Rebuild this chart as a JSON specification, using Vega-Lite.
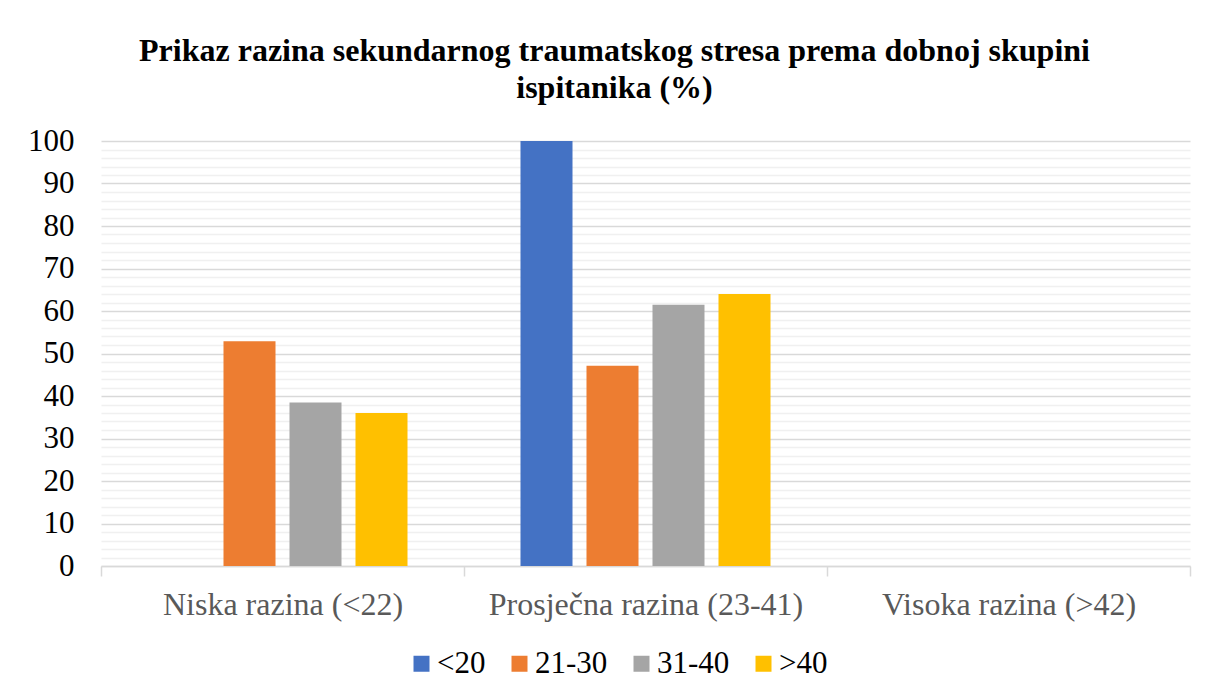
{
  "$schema": "https://vega.github.io/schema/vega-lite/v6.json",
  "width": 1089,
  "height": 425,
  "autosize": {"type": "none"},
  "padding": {"left": 101, "top": 141, "right": 18, "bottom": 129},
  "background": "white",
  "title": {
    "text": ["Prikaz razina sekundarnog traumatskog stresa prema dobnoj skupini", "ispitanika (%)"],
    "font": "Liberation Serif",
    "fontSize": 32,
    "fontWeight": "bold",
    "color": "#000000",
    "anchor": "middle",
    "dx": -31,
    "offset": 20,
    "lineHeight": 37
  },
  "data": {
    "values": [
      {"razina": "Niska razina (<22)", "dob": "<20", "postotak": 0},
      {"razina": "Niska razina (<22)", "dob": "21-30", "postotak": 52.9},
      {"razina": "Niska razina (<22)", "dob": "31-40", "postotak": 38.5},
      {"razina": "Niska razina (<22)", "dob": ">40", "postotak": 36},
      {"razina": "Prosječna razina (23-41)", "dob": "<20", "postotak": 100},
      {"razina": "Prosječna razina (23-41)", "dob": "21-30", "postotak": 47.1},
      {"razina": "Prosječna razina (23-41)", "dob": "31-40", "postotak": 61.5},
      {"razina": "Prosječna razina (23-41)", "dob": ">40", "postotak": 64},
      {"razina": "Visoka razina (>42)", "dob": "<20", "postotak": 0},
      {"razina": "Visoka razina (>42)", "dob": "21-30", "postotak": 0},
      {"razina": "Visoka razina (>42)", "dob": "31-40", "postotak": 0},
      {"razina": "Visoka razina (>42)", "dob": ">40", "postotak": 0}
    ]
  },
  "mark": {"type": "bar"},
  "encoding": {
    "x": {
      "field": "razina",
      "type": "nominal",
      "sort": null,
      "scale": {"paddingInner": 0, "paddingOuter": 0},
      "axis": {
        "title": null,
        "labelAngle": 0,
        "labelFont": "Liberation Serif",
        "labelFontSize": 32,
        "labelLimit": 0,
        "labelColor": "#595959",
        "labelPadding": 13,
        "domainColor": "#d9d9d9",
        "domainWidth": 1.5,
        "tickColor": "#d9d9d9",
        "tickWidth": 1.5,
        "tickSize": 10,
        "tickBand": "extent",
        "grid": false
      }
    },
    "xOffset": {
      "field": "dob",
      "type": "nominal",
      "sort": ["<20", "21-30", "31-40", ">40"],
      "scale": {"paddingInner": 0.212, "paddingOuter": 0.856}
    },
    "y": {
      "field": "postotak",
      "type": "quantitative",
      "scale": {"domain": [0, 100], "nice": false},
      "axis": {
        "title": null,
        "values": [0,2,4,6,8,10,12,14,16,18,20,22,24,26,28,30,32,34,36,38,40,42,44,46,48,50,52,54,56,58,60,62,64,66,68,70,72,74,76,78,80,82,84,86,88,90,92,94,96,98,100],
        "labelExpr": "datum.value % 10 === 0 ? datum.label : ''",
        "labelFont": "Liberation Serif",
        "labelFontSize": 31,
        "labelColor": "#000000",
        "labelPadding": 27,
        "ticks": false,
        "domain": false,
        "grid": true,
        "gridColor": {"condition": {"test": "datum.value % 10 === 0", "value": "#d9d9d9"}, "value": "#f0f0f0"},
        "gridWidth": 1.5
      }
    },
    "color": {
      "field": "dob",
      "type": "nominal",
      "sort": ["<20", "21-30", "31-40", ">40"],
      "scale": {"domain": ["<20", "21-30", "31-40", ">40"], "range": ["#4472C4", "#ED7D31", "#A5A5A5", "#FFC000"]},
      "legend": {
        "title": null,
        "orient": "none",
        "direction": "horizontal",
        "legendX": 305,
        "legendY": 507,
        "symbolType": "square",
        "symbolSize": 256,
        "symbolStrokeWidth": 0,
        "labelFont": "Liberation Serif",
        "labelFontSize": 31,
        "labelColor": "#000000",
        "labelOffset": 0,
        "columnPadding": 18
      }
    }
  },
  "config": {
    "font": "Liberation Serif",
    "view": {"stroke": null}
  }
}
